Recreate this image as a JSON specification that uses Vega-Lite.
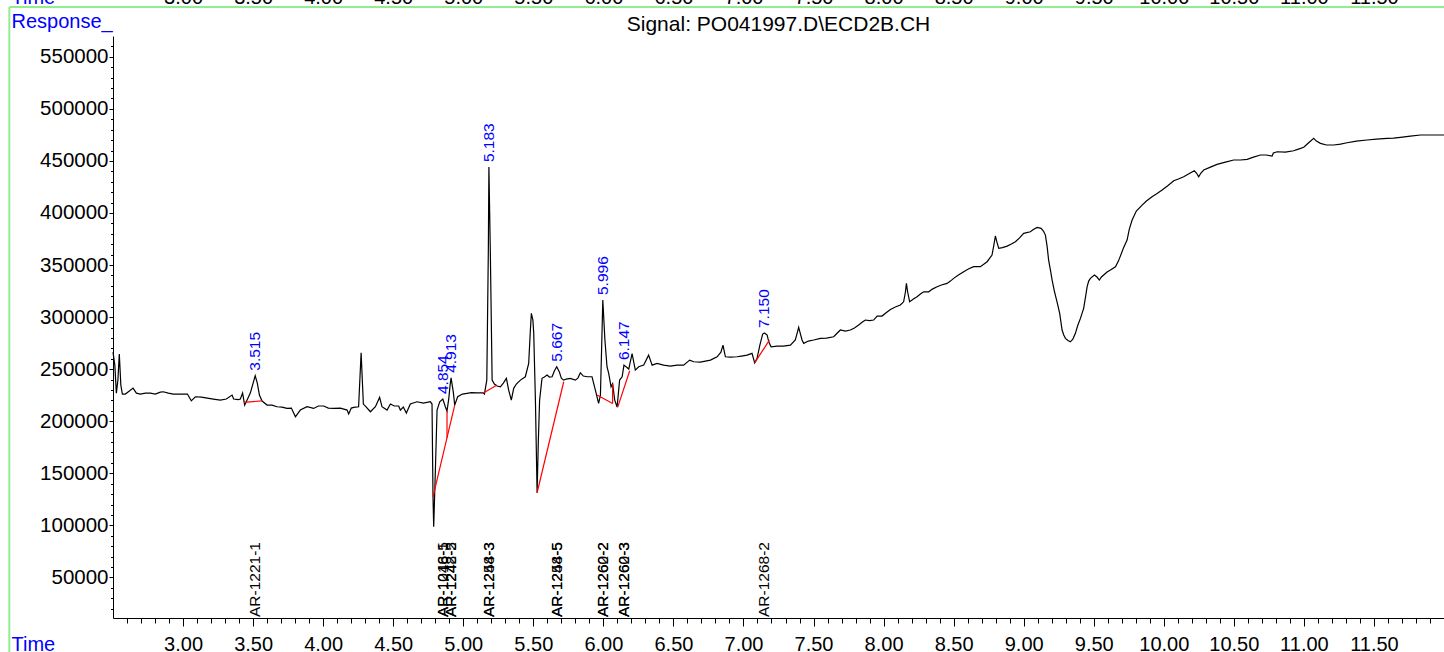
{
  "$schema": "https://vega.github.io/schema/vega-lite/v6.json",
  "width": 1331,
  "height": 582,
  "autosize": {"type": "none"},
  "padding": {"left": 113, "top": 36, "right": 0, "bottom": 34},
  "background": "white",
  "config": {
    "font": "Liberation Sans",
    "view": {"stroke": null},
    "axis": {"grid": false, "domainColor": "black", "tickColor": "black", "labelColor": "black", "labelFont": "Liberation Sans", "labelFontSize": 20, "labelFlush": false, "labelOverlap": false, "labelBound": false}
  },
  "title": {"text": "Signal: PO041997.D\\ECD2B.CH", "font": "Liberation Sans", "fontSize": 21, "fontWeight": "normal", "color": "black", "anchor": "middle", "frame": "group", "baseline": "alphabetic", "offset": -65},
  "datasets": {
    "trace": [
      {"t":2.5,"v":266400},{"t":2.513,"v":253900},{"t":2.524,"v":227000},{"t":2.535,"v":239500},{"t":2.545,"v":264500},{"t":2.556,"v":234700},{"t":2.567,"v":226100},{"t":2.588,"v":226100},{"t":2.617,"v":229000},{"t":2.643,"v":231800},{"t":2.667,"v":227000},{"t":2.695,"v":226100},{"t":2.731,"v":227000},{"t":2.767,"v":227000},{"t":2.802,"v":226100},{"t":2.838,"v":228000},{"t":2.859,"v":228300},{"t":2.895,"v":227000},{"t":2.931,"v":226100},{"t":2.981,"v":226100},{"t":3.031,"v":226100},{"t":3.059,"v":219600},{"t":3.088,"v":223500},{"t":3.131,"v":223200},{"t":3.173,"v":222200},{"t":3.216,"v":221300},{"t":3.266,"v":220300},{"t":3.309,"v":221300},{"t":3.35,"v":225100},{"t":3.361,"v":221300},{"t":3.395,"v":220800},{"t":3.409,"v":221300},{"t":3.425,"v":227000},{"t":3.44,"v":215500},{"t":3.457,"v":220300},{"t":3.48,"v":227000},{"t":3.502,"v":237600},{"t":3.515,"v":243700},{"t":3.53,"v":236600},{"t":3.545,"v":225100},{"t":3.564,"v":219400},{"t":3.6,"v":215500},{"t":3.635,"v":215500},{"t":3.671,"v":213900},{"t":3.707,"v":213600},{"t":3.742,"v":212300},{"t":3.773,"v":212600},{"t":3.802,"v":204300},{"t":3.837,"v":210700},{"t":3.885,"v":213900},{"t":3.932,"v":212300},{"t":3.966,"v":214600},{"t":4.004,"v":214600},{"t":4.037,"v":212600},{"t":4.075,"v":212300},{"t":4.123,"v":212600},{"t":4.171,"v":210700},{"t":4.182,"v":206900},{"t":4.201,"v":212600},{"t":4.218,"v":213300},{"t":4.253,"v":213900},{"t":4.271,"v":265800},{"t":4.287,"v":216500},{"t":4.308,"v":213600},{"t":4.337,"v":209100},{"t":4.373,"v":213900},{"t":4.403,"v":222900},{"t":4.42,"v":213900},{"t":4.456,"v":210700},{"t":4.48,"v":216500},{"t":4.508,"v":214600},{"t":4.539,"v":214600},{"t":4.551,"v":210700},{"t":4.572,"v":213600},{"t":4.594,"v":207800},{"t":4.622,"v":216500},{"t":4.67,"v":218700},{"t":4.715,"v":217400},{"t":4.765,"v":218700},{"t":4.777,"v":216500},{"t":4.784,"v":127400},{"t":4.789,"v":98600},{"t":4.801,"v":153100},{"t":4.813,"v":210700},{"t":4.832,"v":218700},{"t":4.854,"v":221300},{"t":4.872,"v":213900},{"t":4.884,"v":209700},{"t":4.897,"v":222200},{"t":4.906,"v":234700},{"t":4.913,"v":241700},{"t":4.929,"v":228000},{"t":4.939,"v":215500},{"t":4.96,"v":223500},{"t":4.994,"v":226100},{"t":5.027,"v":226800},{"t":5.058,"v":227500},{"t":5.099,"v":227300},{"t":5.141,"v":227300},{"t":5.151,"v":226100},{"t":5.168,"v":239500},{"t":5.179,"v":364400},{"t":5.183,"v":444100},{"t":5.193,"v":364400},{"t":5.206,"v":239500},{"t":5.222,"v":235700},{"t":5.241,"v":233800},{"t":5.265,"v":233100},{"t":5.286,"v":236600},{"t":5.308,"v":241200},{"t":5.324,"v":229900},{"t":5.343,"v":220300},{"t":5.36,"v":231600},{"t":5.379,"v":235700},{"t":5.408,"v":239500},{"t":5.443,"v":242700},{"t":5.467,"v":255600},{"t":5.479,"v":287600},{"t":5.486,"v":303600},{"t":5.497,"v":297200},{"t":5.503,"v":284400},{"t":5.515,"v":220300},{"t":5.527,"v":131300},{"t":5.536,"v":181900},{"t":5.545,"v":220300},{"t":5.562,"v":241200},{"t":5.579,"v":242400},{"t":5.598,"v":244300},{"t":5.615,"v":242400},{"t":5.634,"v":242700},{"t":5.65,"v":248200},{"t":5.667,"v":252300},{"t":5.686,"v":247200},{"t":5.7,"v":241400},{"t":5.717,"v":239500},{"t":5.736,"v":240500},{"t":5.764,"v":241200},{"t":5.8,"v":239500},{"t":5.818,"v":241400},{"t":5.836,"v":246500},{"t":5.857,"v":243400},{"t":5.884,"v":242700},{"t":5.919,"v":242700},{"t":5.943,"v":229900},{"t":5.966,"v":217100},{"t":5.979,"v":225100},{"t":5.989,"v":278000},{"t":5.996,"v":316400},{"t":6.011,"v":278000},{"t":6.026,"v":252300},{"t":6.038,"v":246000},{"t":6.055,"v":233100},{"t":6.066,"v":236000},{"t":6.081,"v":220300},{"t":6.098,"v":213600},{"t":6.116,"v":239500},{"t":6.134,"v":242700},{"t":6.147,"v":253900},{"t":6.157,"v":252900},{"t":6.181,"v":250100},{"t":6.205,"v":265000},{"t":6.228,"v":249100},{"t":6.252,"v":252300},{"t":6.288,"v":253900},{"t":6.323,"v":263500},{"t":6.348,"v":253900},{"t":6.383,"v":255600},{"t":6.43,"v":253900},{"t":6.478,"v":252900},{"t":6.526,"v":253900},{"t":6.573,"v":253900},{"t":6.616,"v":258700},{"t":6.645,"v":257100},{"t":6.692,"v":256800},{"t":6.728,"v":257800},{"t":6.764,"v":258700},{"t":6.812,"v":261900},{"t":6.839,"v":266400},{"t":6.854,"v":273100},{"t":6.864,"v":266400},{"t":6.871,"v":261900},{"t":6.907,"v":261600},{"t":6.954,"v":261900},{"t":6.985,"v":262600},{"t":7.026,"v":263500},{"t":7.061,"v":265200},{"t":7.08,"v":256100},{"t":7.097,"v":260400},{"t":7.117,"v":273100},{"t":7.137,"v":283700},{"t":7.15,"v":284700},{"t":7.169,"v":282800},{"t":7.181,"v":276000},{"t":7.197,"v":271500},{"t":7.24,"v":272200},{"t":7.285,"v":272200},{"t":7.335,"v":273100},{"t":7.37,"v":278000},{"t":7.385,"v":285600},{"t":7.394,"v":290200},{"t":7.403,"v":285600},{"t":7.418,"v":278000},{"t":7.43,"v":274800},{"t":7.463,"v":277000},{"t":7.501,"v":278000},{"t":7.549,"v":279600},{"t":7.592,"v":279900},{"t":7.644,"v":281100},{"t":7.67,"v":284700},{"t":7.692,"v":287600},{"t":7.727,"v":286600},{"t":7.763,"v":287600},{"t":7.792,"v":289500},{"t":7.822,"v":292400},{"t":7.849,"v":295200},{"t":7.87,"v":297200},{"t":7.899,"v":296700},{"t":7.929,"v":297200},{"t":7.954,"v":301000},{"t":7.989,"v":301000},{"t":8.02,"v":304400},{"t":8.049,"v":307400},{"t":8.084,"v":309700},{"t":8.12,"v":311600},{"t":8.143,"v":314700},{"t":8.156,"v":324100},{"t":8.163,"v":332400},{"t":8.172,"v":324100},{"t":8.186,"v":314700},{"t":8.213,"v":317300},{"t":8.239,"v":319500},{"t":8.263,"v":322100},{"t":8.286,"v":324300},{"t":8.322,"v":324300},{"t":8.348,"v":326900},{"t":8.382,"v":329200},{"t":8.413,"v":330800},{"t":8.453,"v":332400},{"t":8.477,"v":334600},{"t":8.5,"v":337200},{"t":8.534,"v":340400},{"t":8.572,"v":343600},{"t":8.605,"v":346200},{"t":8.643,"v":348400},{"t":8.691,"v":348400},{"t":8.739,"v":353200},{"t":8.774,"v":359600},{"t":8.787,"v":369200},{"t":8.798,"v":377900},{"t":8.809,"v":372100},{"t":8.822,"v":366000},{"t":8.848,"v":366800},{"t":8.882,"v":368200},{"t":8.912,"v":370200},{"t":8.941,"v":372400},{"t":8.969,"v":375900},{"t":9.0,"v":380400},{"t":9.048,"v":382000},{"t":9.069,"v":384100},{"t":9.096,"v":386200},{"t":9.124,"v":385200},{"t":9.141,"v":382700},{"t":9.155,"v":378800},{"t":9.167,"v":368200},{"t":9.178,"v":354800},{"t":9.191,"v":345200},{"t":9.203,"v":335600},{"t":9.219,"v":325000},{"t":9.238,"v":314700},{"t":9.257,"v":303600},{"t":9.274,"v":287600},{"t":9.286,"v":282800},{"t":9.298,"v":279600},{"t":9.316,"v":277500},{"t":9.333,"v":276300},{"t":9.351,"v":278900},{"t":9.369,"v":284400},{"t":9.387,"v":292400},{"t":9.405,"v":298800},{"t":9.428,"v":308400},{"t":9.44,"v":318300},{"t":9.453,"v":329200},{"t":9.464,"v":334600},{"t":9.476,"v":337200},{"t":9.505,"v":340400},{"t":9.523,"v":338500},{"t":9.54,"v":335600},{"t":9.555,"v":338500},{"t":9.571,"v":340400},{"t":9.595,"v":343300},{"t":9.619,"v":345200},{"t":9.655,"v":348400},{"t":9.676,"v":353800},{"t":9.69,"v":358600},{"t":9.712,"v":366300},{"t":9.738,"v":374000},{"t":9.754,"v":384600},{"t":9.774,"v":393200},{"t":9.804,"v":401900},{"t":9.845,"v":407600},{"t":9.876,"v":411500},{"t":9.916,"v":415600},{"t":9.947,"v":418200},{"t":9.988,"v":422000},{"t":10.026,"v":425900},{"t":10.071,"v":431000},{"t":10.104,"v":432600},{"t":10.142,"v":434800},{"t":10.176,"v":437400},{"t":10.218,"v":440600},{"t":10.233,"v":438400},{"t":10.249,"v":434800},{"t":10.265,"v":438400},{"t":10.285,"v":441300},{"t":10.333,"v":444100},{"t":10.38,"v":446700},{"t":10.44,"v":448900},{"t":10.499,"v":450900},{"t":10.547,"v":450900},{"t":10.595,"v":451500},{"t":10.64,"v":453700},{"t":10.69,"v":455700},{"t":10.732,"v":455700},{"t":10.773,"v":454700},{"t":10.782,"v":457600},{"t":10.809,"v":458800},{"t":10.868,"v":458500},{"t":10.927,"v":459800},{"t":10.961,"v":461400},{"t":10.999,"v":463100},{"t":11.032,"v":467200},{"t":11.07,"v":471700},{"t":11.089,"v":469100},{"t":11.118,"v":466900},{"t":11.161,"v":465300},{"t":11.213,"v":465300},{"t":11.261,"v":466200},{"t":11.308,"v":467500},{"t":11.375,"v":469100},{"t":11.451,"v":470100},{"t":11.518,"v":471000},{"t":11.594,"v":471700},{"t":11.639,"v":472000},{"t":11.689,"v":472700},{"t":11.76,"v":473900},{"t":11.832,"v":474900},{"t":11.917,"v":474900},{"t":12.0,"v":474900}
    ],
    "baselines": [
      {"seg":"a","t":3.433,"v":218100},{"seg":"a","t":3.564,"v":219600},
      {"seg":"b","t":4.784,"v":127400},{"seg":"b","t":4.939,"v":215500},
      {"seg":"c","t":4.884,"v":184200},{"seg":"c","t":4.884,"v":209700},
      {"seg":"d","t":5.141,"v":226800},{"seg":"d","t":5.241,"v":234700},
      {"seg":"e","t":5.527,"v":131300},{"seg":"e","t":5.717,"v":237900},
      {"seg":"f","t":5.955,"v":225100},{"seg":"f","t":6.066,"v":217100},
      {"seg":"g","t":6.066,"v":217100},{"seg":"g","t":6.066,"v":236000},
      {"seg":"h","t":6.102,"v":213300},{"seg":"h","t":6.188,"v":248500},
      {"seg":"i","t":7.08,"v":256100},{"seg":"i","t":7.185,"v":277900}
    ],
    "peaks": [
      {"rt":3.515,"height":243700,"label":"3.515"},
      {"rt":4.854,"height":221300,"label":"4.854"},
      {"rt":4.913,"height":241700,"label":"4.913"},
      {"rt":5.183,"height":444100,"label":"5.183"},
      {"rt":5.667,"height":252300,"label":"5.667"},
      {"rt":5.996,"height":316400,"label":"5.996"},
      {"rt":6.147,"height":253900,"label":"6.147"},
      {"rt":7.15,"height":284700,"label":"7.150"}
    ],
    "compounds": [
      {"rt":3.515,"name":"AR-1221-1"},
      {"rt":4.854,"name":"AR-1016-5"},
      {"rt":4.854,"name":"AR-1248-1"},
      {"rt":4.913,"name":"AR-1242-5"},
      {"rt":4.913,"name":"AR-1248-2"},
      {"rt":5.183,"name":"AR-1248-3"},
      {"rt":5.183,"name":"AR-1254-3"},
      {"rt":5.667,"name":"AR-1254-5"},
      {"rt":5.667,"name":"AR-1248-5"},
      {"rt":5.996,"name":"AR-1260-2"},
      {"rt":5.996,"name":"AR-1262-2"},
      {"rt":6.147,"name":"AR-1260-3"},
      {"rt":6.147,"name":"AR-1262-3"},
      {"rt":7.15,"name":"AR-1268-2"}
    ]
  },
  "layer": [
    {
      "data": {"name": "trace"},
      "mark": {"type": "line", "color": "black", "strokeWidth": 1.2},
      "encoding": {
        "x": {"field": "t", "type": "quantitative",
          "scale": {"domain": [2.5, 12.0], "nice": false, "zero": false},
          "axis": {"orient": "bottom", "values": [3,3.5,4,4.5,5,5.5,6,6.5,7,7.5,8,8.5,9,9.5,10,10.5,11,11.5], "format": ".2f", "tickSize": 8, "tickWidth": 1, "domainWidth": 1, "labelPadding": 24, "labelBaseline": "alphabetic",
            "title": "Time", "titleColor": "#0000FF", "titleFont": "Liberation Sans", "titleFontSize": 20, "titleFontWeight": "normal", "titleX": -102, "titleY": 32, "titleAlign": "left", "titleBaseline": "alphabetic", "titleAngle": 0}},
        "y": {"field": "v", "type": "quantitative",
          "scale": {"domain": [11000, 570000], "nice": false, "zero": false},
          "axis": {"orient": "left", "values": [50000,100000,150000,200000,250000,300000,350000,400000,450000,500000,550000], "format": "d", "tickSize": 4, "tickWidth": 1, "domainWidth": 1, "labelPadding": 1, "labelFontSize": 20.5,
            "title": "Response_", "titleColor": "#0000FF", "titleFont": "Liberation Sans", "titleFontSize": 20, "titleFontWeight": "normal", "titleAngle": 0, "titleX": -102, "titleY": -9, "titleAlign": "left", "titleBaseline": "alphabetic"}}
      }
    },
    {
      "data": {"name": "baselines"},
      "mark": {"type": "line", "color": "#FF0000", "strokeWidth": 1.2},
      "encoding": {
        "x": {"field": "t", "type": "quantitative",
          "scale": {"domain": [2.5, 12.0], "nice": false, "zero": false},
          "axis": {"orient": "bottom", "values": [2.6,2.7,2.8,2.9,3.0,3.1,3.2,3.3,3.4,3.5,3.6,3.7,3.8,3.9,4.0,4.1,4.2,4.3,4.4,4.5,4.6,4.7,4.8,4.9,5.0,5.1,5.2,5.3,5.4,5.5,5.6,5.7,5.8,5.9,6.0,6.1,6.2,6.3,6.4,6.5,6.6,6.7,6.8,6.9,7.0,7.1,7.2,7.3,7.4,7.5,7.6,7.7,7.8,7.9,8.0,8.1,8.2,8.3,8.4,8.5,8.6,8.7,8.8,8.9,9.0,9.1,9.2,9.3,9.4,9.5,9.6,9.7,9.8,9.9,10.0,10.1,10.2,10.3,10.4,10.5,10.6,10.7,10.8,10.9,11.0,11.1,11.2,11.3,11.4,11.5,11.6,11.7,11.8,11.9], "labels": false, "domain": false, "tickSize": 5, "tickWidth": 1, "title": null}},
        "y": {"field": "v", "type": "quantitative",
          "scale": {"domain": [11000, 570000], "nice": false, "zero": false},
          "axis": {"orient": "left", "values": [20000,30000,40000,60000,70000,80000,90000,110000,120000,130000,140000,160000,170000,180000,190000,210000,220000,230000,240000,260000,270000,280000,290000,310000,320000,330000,340000,360000,370000,380000,390000,410000,420000,430000,440000,460000,470000,480000,490000,510000,520000,530000,540000,560000], "labels": false, "domain": false, "tickSize": 2.5, "tickWidth": 1, "title": null}},
        "detail": {"field": "seg", "type": "nominal"}
      }
    },
    {
      "data": {"name": "peaks"},
      "mark": {"type": "text", "color": "#0000FF", "font": "Liberation Sans", "fontSize": 15.5, "angle": 270, "align": "left", "baseline": "middle", "dx": 5},
      "encoding": {
        "x": {"field": "rt", "type": "quantitative", "scale": {"domain": [2.5, 12.0], "nice": false, "zero": false}, "axis": null},
        "y": {"field": "height", "type": "quantitative", "scale": {"domain": [11000, 570000], "nice": false, "zero": false}, "axis": null},
        "text": {"field": "label", "type": "nominal"}
      }
    },
    {
      "data": {"name": "compounds"},
      "mark": {"type": "text", "color": "black", "font": "Liberation Sans", "fontSize": 15.5, "angle": 270, "align": "left", "baseline": "middle", "dx": 1},
      "encoding": {
        "x": {"field": "rt", "type": "quantitative", "scale": {"domain": [2.5, 12.0], "nice": false, "zero": false},
          "axis": {"orient": "top", "values": [3,3.5,4,4.5,5,5.5,6,6.5,7,7.5,8,8.5,9,9.5,10,10.5,11,11.5], "format": ".2f", "ticks": false, "domain": false, "labelPadding": 33, "labelBaseline": "alphabetic",
            "title": "Time", "titleColor": "#0000FF", "titleFont": "Liberation Sans", "titleFontSize": 20, "titleFontWeight": "normal", "titleX": -102, "titleY": -33, "titleAlign": "left", "titleBaseline": "alphabetic", "titleAngle": 0}},
        "y": {"datum": 11000, "type": "quantitative", "scale": {"domain": [11000, 570000], "nice": false, "zero": false}, "axis": null},
        "text": {"field": "name", "type": "nominal"}
      }
    },
    {
      "data": {"values": [{}]},
      "mark": {"type": "rule", "color": "#90EE90", "strokeWidth": 2},
      "encoding": {
        "x": {"datum": 1.76, "type": "quantitative", "scale": {"domain": [2.5, 12.0], "nice": false, "zero": false}, "axis": null},
        "x2": {"datum": 12.2},
        "y": {"datum": 597800, "type": "quantitative", "scale": {"domain": [11000, 570000], "nice": false, "zero": false}, "axis": null}
      }
    },
    {
      "data": {"values": [{}]},
      "mark": {"type": "rule", "color": "#90EE90", "strokeWidth": 2},
      "encoding": {
        "x": {"datum": 1.76, "type": "quantitative", "scale": {"domain": [2.5, 12.0], "nice": false, "zero": false}, "axis": null},
        "y": {"datum": 597800, "type": "quantitative", "scale": {"domain": [11000, 570000], "nice": false, "zero": false}, "axis": null},
        "y2": {"datum": -21800}
      }
    }
  ],
  "resolve": {"axis": {"x": "independent", "y": "independent"}}
}
